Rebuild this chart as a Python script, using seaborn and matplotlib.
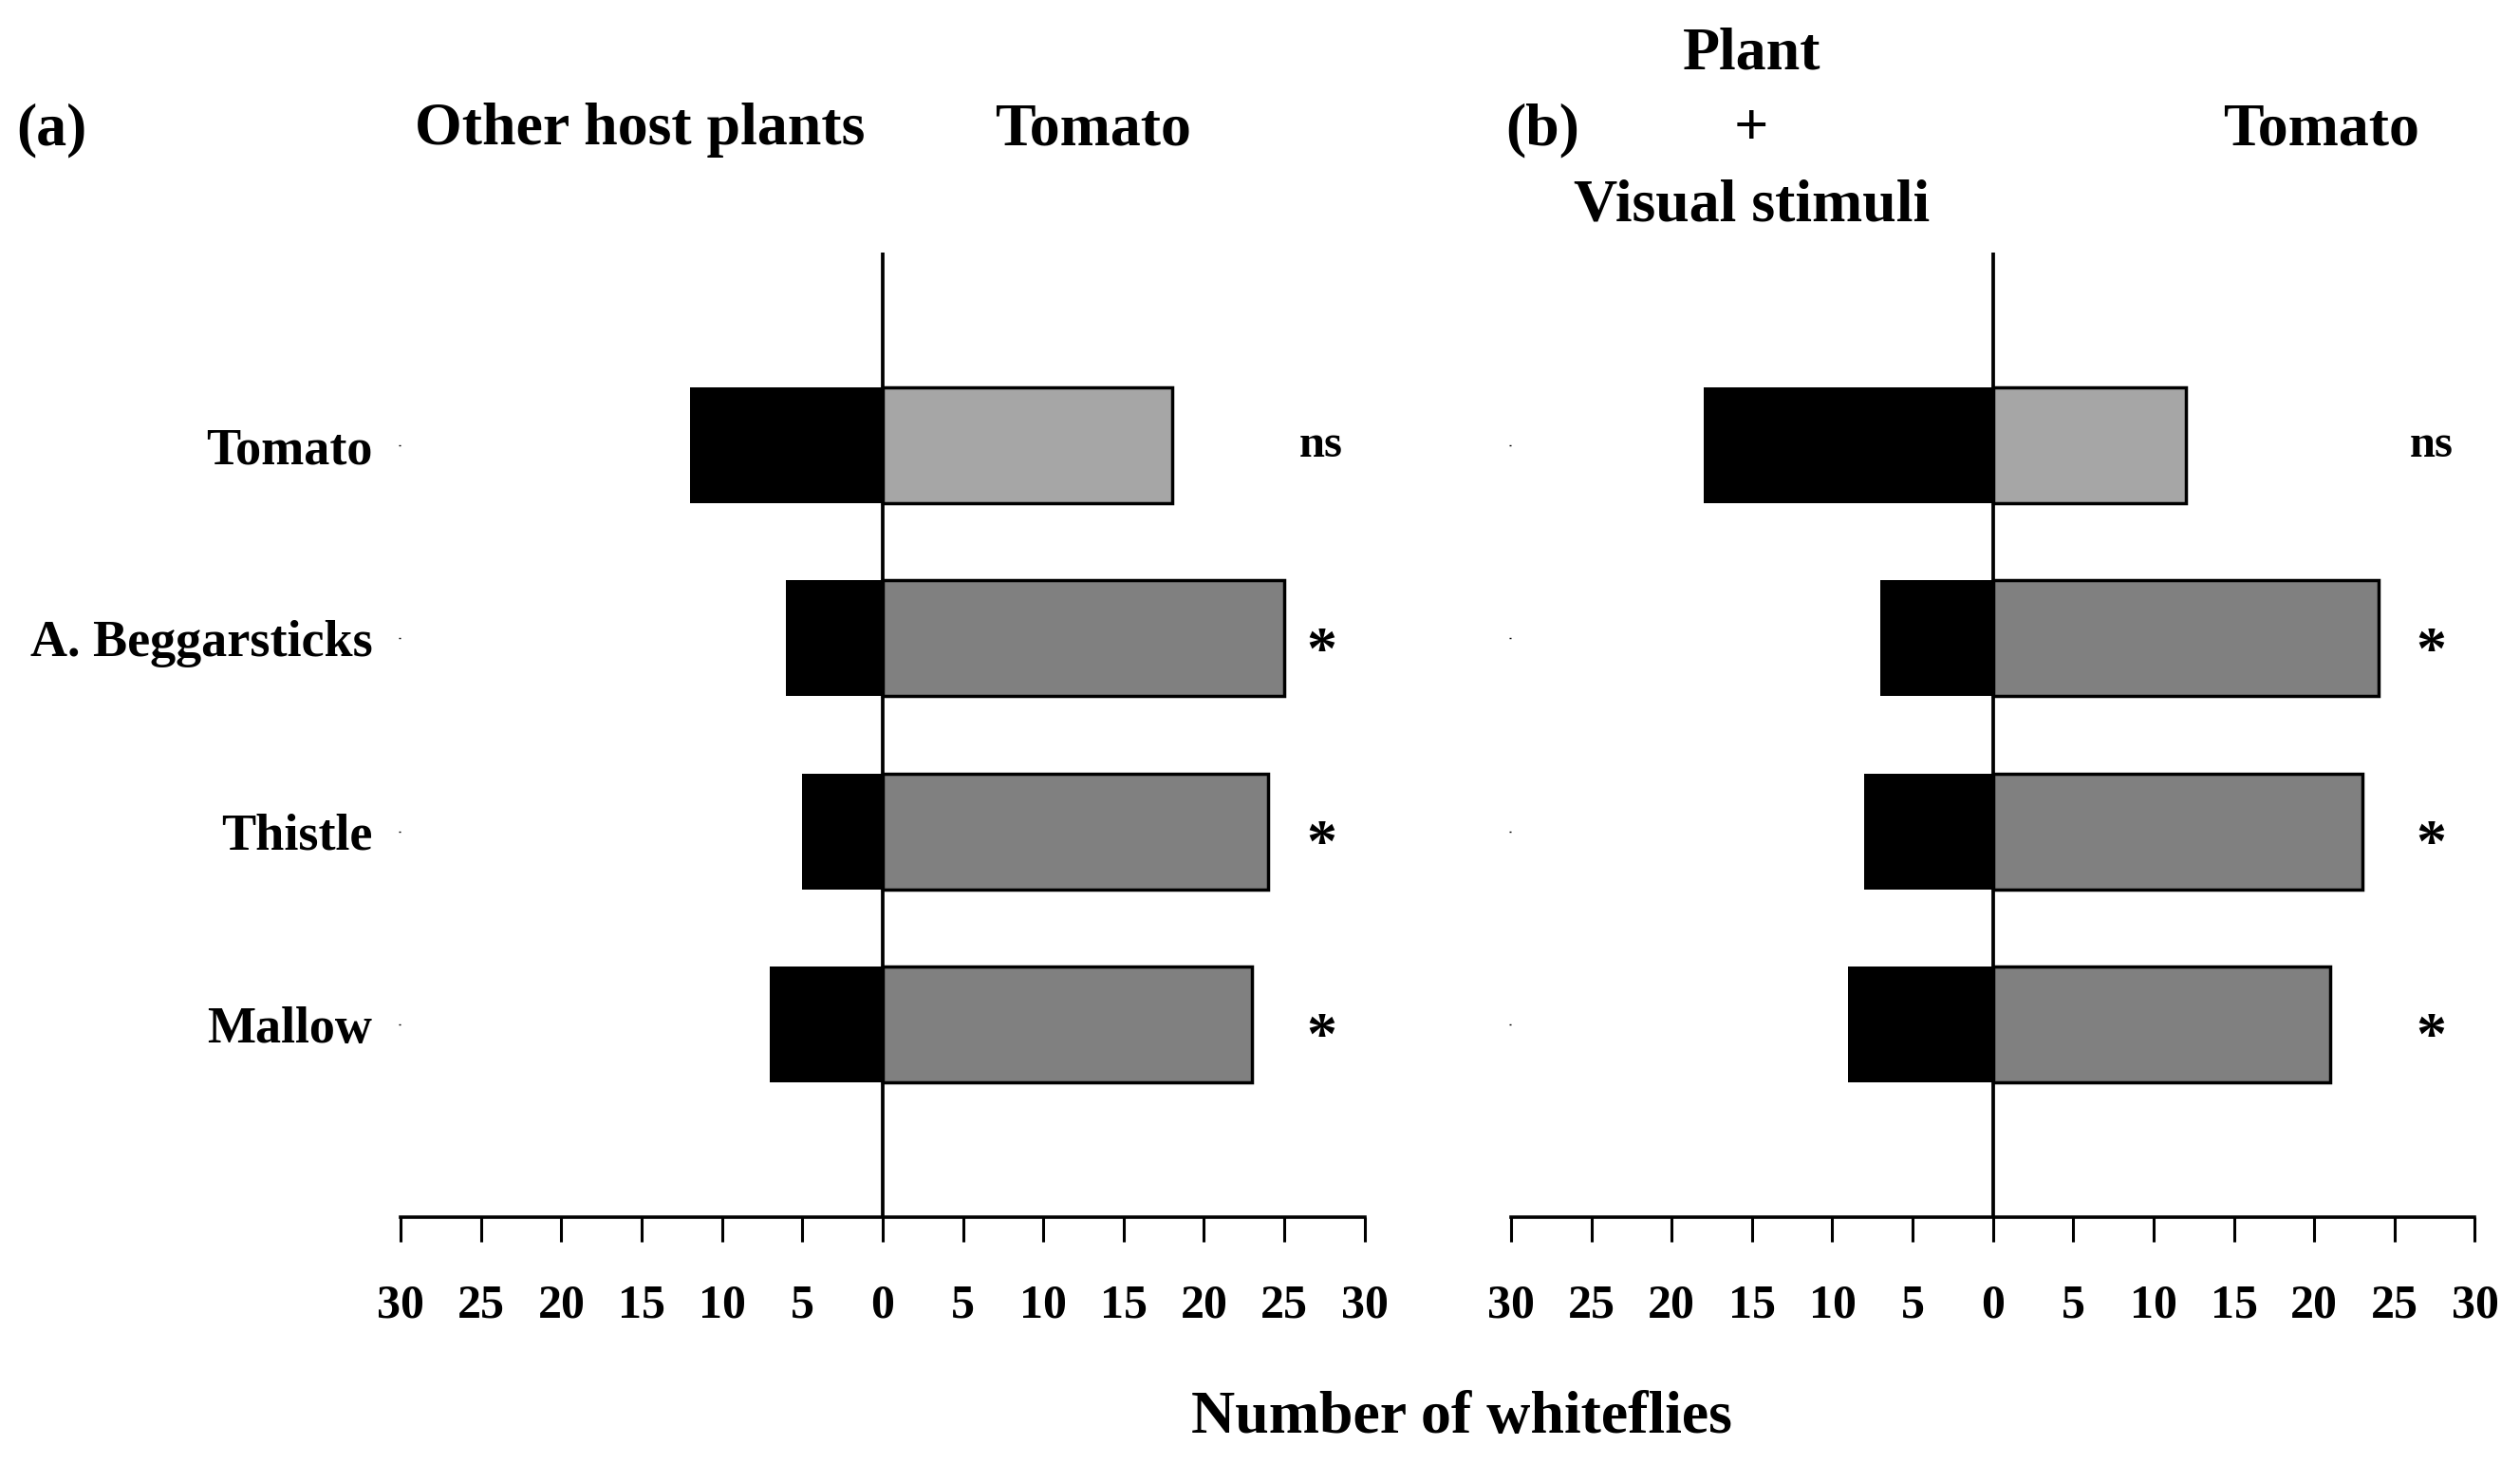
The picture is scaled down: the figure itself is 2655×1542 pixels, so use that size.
import matplotlib
matplotlib.use("Agg")
import matplotlib.pyplot as plt
import numpy as np
import pandas as pd
import seaborn as sns

plants = ["Tomato", "A. Beggarsticks", "Thistle", "Mallow"]

# panel (a): other host plant vs tomato
a_other = [12, 6, 5, 7]
a_tomato = [18, 25, 24, 23]
a_signif = ["ns", "*", "*", "*"]

# panel (b): plant + visual stimuli vs tomato
b_other = [18, 7, 8, 9]
b_tomato = [12, 24, 23, 21]
b_signif = ["ns", "*", "*", "*"]

xticks = [-30, -25, -20, -15, -10, -5, 0, 5, 10, 15, 20, 25, 30]

sns.set_style("white")
plt.rcParams["font.family"] = ["Liberation Serif", "DejaVu Serif"]
plt.rcParams["font.weight"] = "bold"
for key in ["text.color", "axes.labelcolor", "xtick.color", "ytick.color", "axes.edgecolor"]:
    plt.rcParams[key] = "black"

fig = plt.figure(figsize=(26.55, 15.42), dpi=100)
ax_a = fig.add_axes([0.159, 0.1686, 0.3825, 0.6589])
ax_b = fig.add_axes([0.5996, 0.1686, 0.3825, 0.6589])

right_colors = ["#a6a6a6", "#808080", "#808080", "#808080"]


def draw_panel(ax, other, tomato, signif, show_labels):
    df = pd.DataFrame({"plant": plants, "other": [-v for v in other], "tomato": tomato})
    sns.barplot(data=df, x="other", y="plant", order=plants, color="black",
                width=0.6, edgecolor="black", linewidth=0, ax=ax, orient="h")
    sns.barplot(data=df, x="tomato", y="plant", order=plants, hue="plant",
                palette=right_colors, legend=False, width=0.6,
                edgecolor="black", linewidth=2.5, ax=ax, orient="h")
    ax.axvline(0, color="black", lw=2.7, zorder=5)
    ax.set_xlim(-30, 30)
    ax.set_ylim(4, -1)
    ax.set_xticks(xticks)
    ax.set_xticklabels([str(abs(t)) for t in xticks])
    ax.tick_params(axis="x", direction="out", length=19, width=2.2, pad=32,
                   labelsize=36, bottom=True)
    ax.tick_params(axis="y", length=1.5, width=1, pad=20, labelsize=39, left=True)
    if not show_labels:
        ax.set_yticklabels([])
    for sp in ["top", "right", "left"]:
        ax.spines[sp].set_visible(False)
    ax.spines["bottom"].set_linewidth(2.6)
    ax.set_xlabel("")
    ax.set_ylabel("")
    for i, s in enumerate(signif):
        if s == "*":
            ax.text(27.3, i + 0.08, s, ha="center", va="center", fontsize=46, fontweight="bold")
        else:
            ax.text(27.3, i, s, ha="center", va="center", fontsize=35, fontweight="bold")


draw_panel(ax_a, a_other, a_tomato, a_signif, True)
draw_panel(ax_b, b_other, b_tomato, b_signif, False)

head = dict(fontsize=46, fontweight="bold", ha="center", va="center")
fig.text(0.0204, 0.911, "(a)", **head)
fig.text(0.2538, 0.911, "Other host plants", **head)
fig.text(0.4337, 0.911, "Tomato", **head)
fig.text(0.612, 0.911, "(b)", **head)
fig.text(0.695, 0.963, "Plant", **head)
fig.text(0.695, 0.911, "+", **head)
fig.text(0.695, 0.859, "Visual stimuli", **head)
fig.text(0.921, 0.911, "Tomato", **head)
fig.text(0.580, 0.031, "Number of whiteflies", **head)

fig.savefig("out.png", dpi=100)
